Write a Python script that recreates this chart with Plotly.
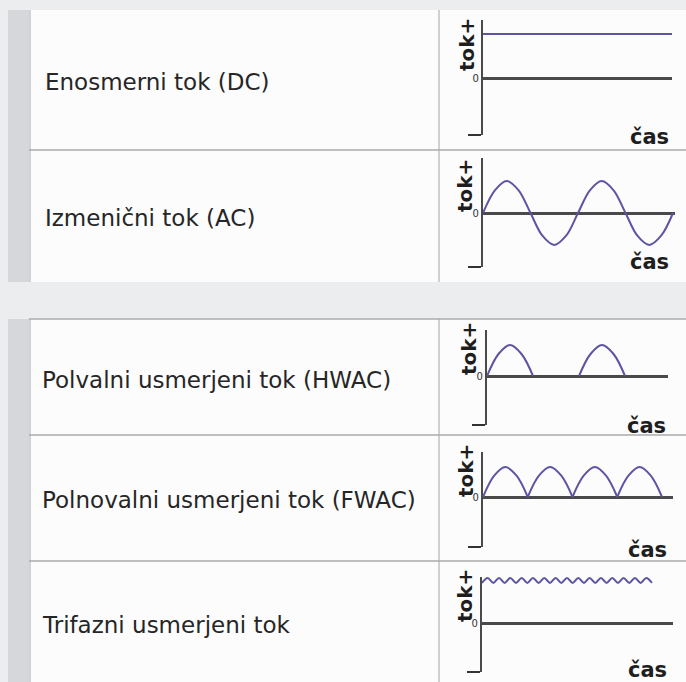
import plotly.graph_objects as go

W, H = 686, 682

# ---------------- data ----------------
row_labels = [
    "Enosmerni tok (DC)",
    "Izmenični tok (AC)",
    "Polvalni usmerjeni tok (HWAC)",
    "Polnovalni usmerjeni tok (FWAC)",
    "Trifazni usmerjeni tok",
]
y_axis_label = "tok+"
x_axis_label = "čas"
zero_tick_label = "0"

# DC: constant current (in units of the drawn level)
dc_x = [0.0, 2.0]
dc_y = [1.0, 1.0]

# AC: two full periods (x in periods)
ac_x = [0, 0.125, 0.25, 0.375, 0.5, 0.625, 0.75, 0.875, 1.0,
        1.125, 1.25, 1.375, 1.5, 1.625, 1.75, 1.875, 2.0]
ac_y = [0, 0.71, 1, 0.71, 0, -0.71, -1, -0.71, 0,
        0.71, 1, 0.71, 0, -0.71, -1, -0.71, 0]

# Half-wave rectified: two humps (x in periods)
hwac_x = [0, 0.125, 0.25, 0.375, 0.5, None, 1.0, 1.125, 1.25, 1.375, 1.5]
hwac_y = [0, 0.71, 1, 0.71, 0, None, 0, 0.71, 1, 0.71, 0]

# Full-wave rectified: four humps (x in half periods)
fwac_x = [0, 0.25, 0.5, 0.75, 1, None,
          1, 1.25, 1.5, 1.75, 2, None,
          2, 2.25, 2.5, 2.75, 3, None,
          3, 3.25, 3.5, 3.75, 4]
fwac_y = [0, 0.71, 1, 0.71, 0, None,
          0, 0.71, 1, 0.71, 0, None,
          0, 0.71, 1, 0.71, 0, None,
          0, 0.71, 1, 0.71, 0]

# Three-phase rectified: small ripple near the top (x in ripple periods)
ripple_x = [0, 0.5, 1, 1.5, 2, 2.5, 3, 3.5, 4, 4.5, 5, 5.5, 6, 6.5, 7, 7.5,
            8, 8.5, 9, 9.5, 10, 10.5, 11, 11.5, 12, 12.5, 13, 13.5, 14, 14.5, 15]
ripple_y = [0.89, 1, 0.89, 1, 0.89, 1, 0.89, 1, 0.89, 1, 0.89, 1, 0.89, 1, 0.89, 1,
            0.89, 1, 0.89, 1, 0.89, 1, 0.89, 1, 0.89, 1, 0.89, 1, 0.89, 1, 0.89]

series = [(dc_x, dc_y), (ac_x, ac_y), (hwac_x, hwac_y), (fwac_x, fwac_y), (ripple_x, ripple_y)]

# ---------------- layout geometry (pixels) ----------------
charts = [
    dict(x0=483, x1=672, top=20,  bot=135, zero=78,  unit=44, xr=2.0,   tok=(467, 45),  cas=(671, 137), row=82),
    dict(x0=483, x1=675, top=158, bot=267, zero=213, unit=32, xr=2.021, tok=(465, 186), cas=(671, 262), row=218),
    dict(x0=487, x1=668, top=330, bot=425, zero=376, unit=31, xr=1.967, tok=(469, 349), cas=(668, 426), row=380),
    dict(x0=483, x1=673, top=452, bot=547, zero=497, unit=30, xr=4.246, tok=(466, 470), cas=(669, 550), row=500),
    dict(x0=482, x1=673, top=577, bot=672, zero=623, unit=45, xr=16.86, tok=(465, 596), cas=(669, 670), row=625),
]
label_x = [43, 43, 40, 40, 40]


def fx(px):
    return px / W


def fy(py):
    return 1 - py / H


PAGE = "#ecedef"
STRIP = "#d6d7da"
WHITE = "#fcfcfd"
GRID = "#ababab"
AXIS = "#4a4a4a"
CURVE = "#5d55a3"
TEXT = "#262626"

fig = go.Figure()

shapes = []
for t, b in [(10, 282), (319, 682)]:
    shapes.append(dict(type="rect", xref="paper", yref="paper", x0=fx(29), x1=fx(686),
                       y0=fy(b), y1=fy(t), fillcolor=WHITE, line=dict(width=0), layer="below"))
    shapes.append(dict(type="rect", xref="paper", yref="paper", x0=fx(8), x1=fx(29),
                       y0=fy(b), y1=fy(t), fillcolor=STRIP, line=dict(width=0), layer="below"))
    shapes.append(dict(type="line", xref="paper", yref="paper", x0=fx(30), x1=fx(30),
                       y0=fy(b), y1=fy(t), line=dict(color="#c4c5c8", width=1.5), layer="below"))
    shapes.append(dict(type="line", xref="paper", yref="paper", x0=fx(439), x1=fx(439),
                       y0=fy(b), y1=fy(t), line=dict(color="#c2c2c2", width=1.5), layer="below"))
for yy in [150, 319, 435, 561]:
    shapes.append(dict(type="line", xref="paper", yref="paper", x0=fx(29), x1=fx(686),
                       y0=fy(yy), y1=fy(yy), line=dict(color=GRID, width=1.5), layer="below"))

annotations = []
layout_axes = {}
for i, (c, (sx, sy), lab, lx) in enumerate(zip(charts, series, row_labels, label_x)):
    n = "" if i == 0 else str(i + 1)
    xa, ya = "xaxis" + n, "yaxis" + n
    yr = [-(c["bot"] - c["zero"]) / c["unit"], (c["zero"] - c["top"]) / c["unit"]]
    layout_axes[xa] = dict(domain=[fx(c["x0"]), fx(c["x1"])], range=[0, c["xr"]],
                           showgrid=False, zeroline=False, showline=False,
                           showticklabels=False, ticks="", anchor="y" + n, fixedrange=True)
    layout_axes[ya] = dict(domain=[fy(c["bot"]), fy(c["top"])], range=yr,
                           showgrid=False, zeroline=True, zerolinecolor=AXIS, zerolinewidth=2.5,
                           showline=True, linecolor=AXIS, linewidth=2.2,
                           tickmode="array", tickvals=[0], ticktext=[zero_tick_label],
                           ticks="", tickfont=dict(family="DejaVu Sans", size=10, color="#333"),
                           minor=dict(tickmode="array", tickvals=[yr[0]], ticks="outside",
                                      ticklen=13, tickwidth=2.2, tickcolor="#333"),
                           anchor="x" + n, fixedrange=True)
    fig.add_trace(go.Scatter(x=sx, y=sy, mode="lines", xaxis="x" + n, yaxis="y" + n,
                             line=dict(color=CURVE, width=2, shape="linear" if i == 0 else "spline"),
                             connectgaps=False, hoverinfo="skip", showlegend=False))
    annotations.append(dict(text=lab, xref="paper", yref="paper", x=fx(lx), y=fy(c["row"]),
                            xanchor="left", yanchor="middle", showarrow=False,
                            font=dict(family="DejaVu Sans", size=23, color=TEXT)))
    annotations.append(dict(text="<b>" + y_axis_label + "</b>", xref="paper", yref="paper",
                            x=fx(c["tok"][0]), y=fy(c["tok"][1]), textangle=-90,
                            xanchor="center", yanchor="middle", showarrow=False,
                            font=dict(family="DejaVu Sans", size=20, color="#1e1e1e")))
    annotations.append(dict(text="<b>" + x_axis_label + "</b>", xref="paper", yref="paper",
                            x=fx(c["cas"][0]), y=fy(c["cas"][1]),
                            xanchor="right", yanchor="middle", showarrow=False,
                            font=dict(family="DejaVu Sans", size=21, color="#1e1e1e")))

fig.update_layout(
    width=W, height=H, margin=dict(l=0, r=0, t=0, b=0),
    paper_bgcolor=PAGE, plot_bgcolor="rgba(0,0,0,0)",
    shapes=shapes, annotations=annotations, showlegend=False,
    **layout_axes,
)

fig.write_html("out.html", config={"displayModeBar": False},
               post_script="document.body.style.margin='0';document.body.style.overflow='hidden';")
